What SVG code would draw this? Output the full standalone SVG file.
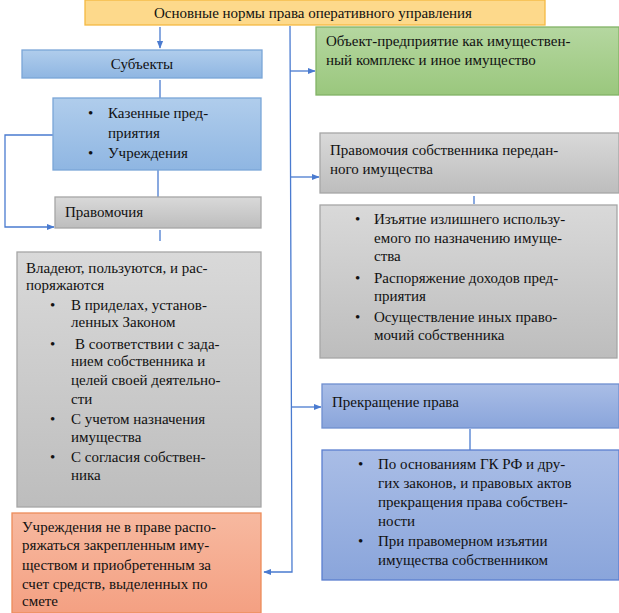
<svg xmlns="http://www.w3.org/2000/svg" width="619" height="613" viewBox="0 0 619 613">
<defs>
<linearGradient id="gb" x1="0" y1="0" x2="0" y2="1"><stop offset="0" stop-color="#b0cdec"/><stop offset="1" stop-color="#8fb6e2"/></linearGradient>
<linearGradient id="gg" x1="0" y1="0" x2="0" y2="1"><stop offset="0" stop-color="#d9d9d9"/><stop offset="1" stop-color="#bdbdbd"/></linearGradient>
<linearGradient id="gn" x1="0" y1="0" x2="0" y2="1"><stop offset="0" stop-color="#b5d7a0"/><stop offset="1" stop-color="#9ac77d"/></linearGradient>
<linearGradient id="gp" x1="0" y1="0" x2="0" y2="1"><stop offset="0" stop-color="#a9bde6"/><stop offset="1" stop-color="#8aa5db"/></linearGradient>
<linearGradient id="go" x1="0" y1="0" x2="0" y2="1"><stop offset="0" stop-color="#f7b9a0"/><stop offset="1" stop-color="#f4a082"/></linearGradient>
<marker id="ar" viewBox="0 0 10 10" refX="9" refY="5" markerWidth="6" markerHeight="6" orient="auto"><path d="M0,1 L10,5 L0,9 z" fill="#4a7bd0"/></marker>
</defs>
<style>
text{font-family:"Liberation Serif","DejaVu Serif",serif;font-size:15px;fill:#111}
.c{stroke:#4a7bd0;stroke-width:1.3;fill:none}
.b{stroke:#7aa6d8;stroke-width:1.3}
.g{stroke:#a6a6a6;stroke-width:1.3}
</style>
<rect width="619" height="613" fill="#fff"/>
<g id="connectors">
<line class="c" x1="160" y1="27" x2="160" y2="48" marker-end="url(#ar)"/>
<line class="c" x1="160" y1="80" x2="160" y2="98"/>
<line class="c" x1="158" y1="170" x2="158" y2="197"/>
<polyline class="c" points="53,135 5,135 5,227 54,227" marker-end="url(#ar)"/>
<line class="c" x1="160" y1="230" x2="160" y2="241"/>
<polyline class="c" points="290,26 292,572 264,572" marker-end="url(#ar)"/>
<line class="c" x1="290" y1="71" x2="315" y2="71" marker-end="url(#ar)"/>
<line class="c" x1="290" y1="177" x2="319" y2="177" marker-end="url(#ar)"/>
<line class="c" x1="291" y1="407" x2="321" y2="407" marker-end="url(#ar)"/>
<line class="c" x1="474" y1="196" x2="474" y2="204"/>
<line class="c" x1="470" y1="429" x2="470" y2="450"/>
</g>
<g id="title"><rect x="85" y="0" width="460" height="25" fill="#fdd98b" stroke="#f4b942" stroke-width="1.3"/><text x="313" y="18" text-anchor="middle">Основные нормы права оперативного управления</text></g>
<g id="subjects"><rect x="22" y="50" width="240" height="28" fill="url(#gb)" class="b"/><text x="142" y="69" text-anchor="middle">Субъекты</text></g>
<g id="kazennye"><rect x="53" y="98" width="208" height="72" fill="url(#gb)" class="b"/>
<text x="88" y="118">•</text><text x="108" y="118">Казенные пред-</text><text x="108" y="138">приятия</text>
<text x="88" y="158">•</text><text x="108" y="158">Учреждения</text></g>
<g id="pravomochiya"><rect x="55" y="197" width="206" height="31" fill="url(#gg)" class="g"/><text x="65" y="217">Правомочия</text></g>
<g id="vladeyut"><rect x="17" y="252" width="244" height="255" fill="url(#gg)" class="g"/>
<text x="26" y="273">Владеют, пользуются, и рас-</text><text x="26" y="290">поряжаются</text>
<text x="50" y="310">•</text><text x="71" y="310">В приделах, установ-</text><text x="71" y="327">ленных Законом</text>
<text x="50" y="349">•</text><text x="75" y="349">В соответствии с зада-</text><text x="71" y="366">нием собственника и</text><text x="71" y="385">целей своей деятельно-</text><text x="71" y="404">сти</text>
<text x="50" y="424">•</text><text x="71" y="424">С учетом назначения</text><text x="71" y="442">имущества</text>
<text x="50" y="462">•</text><text x="71" y="462">С согласия собствен-</text><text x="71" y="480">ника</text></g>
<g id="uchrezhdeniya"><rect x="12" y="513" width="249" height="100" fill="url(#go)" stroke="#ed8c5a" stroke-width="1.3"/>
<text x="22" y="532">Учреждения не в праве распо-</text><text x="22" y="550">ряжаться закрепленным иму-</text><text x="22" y="570">ществом и приобретенным за</text><text x="22" y="589">счет средств, выделенных по</text><text x="22" y="606">смете</text></g>
<g id="object"><rect x="316" y="27" width="303" height="68" fill="url(#gn)" stroke="#82b366" stroke-width="1.3"/>
<text x="326" y="46">Объект-предприятие как имуществен-</text><text x="326" y="65">ный комплекс и иное имущество</text></g>
<g id="owner"><rect x="320" y="133" width="299" height="60" fill="url(#gg)" class="g"/>
<text x="330" y="155">Правомочия собственника передан-</text><text x="330" y="174">ного имущества</text></g>
<g id="owner-list"><rect x="320" y="205" width="297" height="153" fill="url(#gg)" class="g"/>
<text x="355" y="224">•</text><text x="374" y="224">Изъятие излишнего использу-</text><text x="374" y="243">емого по назначению имуще-</text><text x="374" y="261">ства</text>
<text x="355" y="283">•</text><text x="374" y="283">Распоряжение доходов пред-</text><text x="374" y="301">приятия</text>
<text x="355" y="322">•</text><text x="374" y="322">Осуществление иных право-</text><text x="374" y="340">мочий собственника</text></g>
<g id="termination"><rect x="322" y="384" width="297" height="44" fill="url(#gp)" stroke="#6f8fd0" stroke-width="1.3"/><text x="332" y="407">Прекращение права</text></g>
<g id="termination-list"><rect x="322" y="450" width="297" height="130" fill="url(#gp)" stroke="#5b7fd0" stroke-width="1.3"/>
<text x="358" y="469">•</text><text x="378" y="469">По основаниям ГК РФ и дру-</text><text x="378" y="488">гих законов, и правовых актов</text><text x="378" y="507">прекращения права собствен-</text><text x="378" y="526">ности</text>
<text x="358" y="546">•</text><text x="378" y="546">При правомерном изъятии</text><text x="378" y="565">имущества собственником</text></g>
</svg>
